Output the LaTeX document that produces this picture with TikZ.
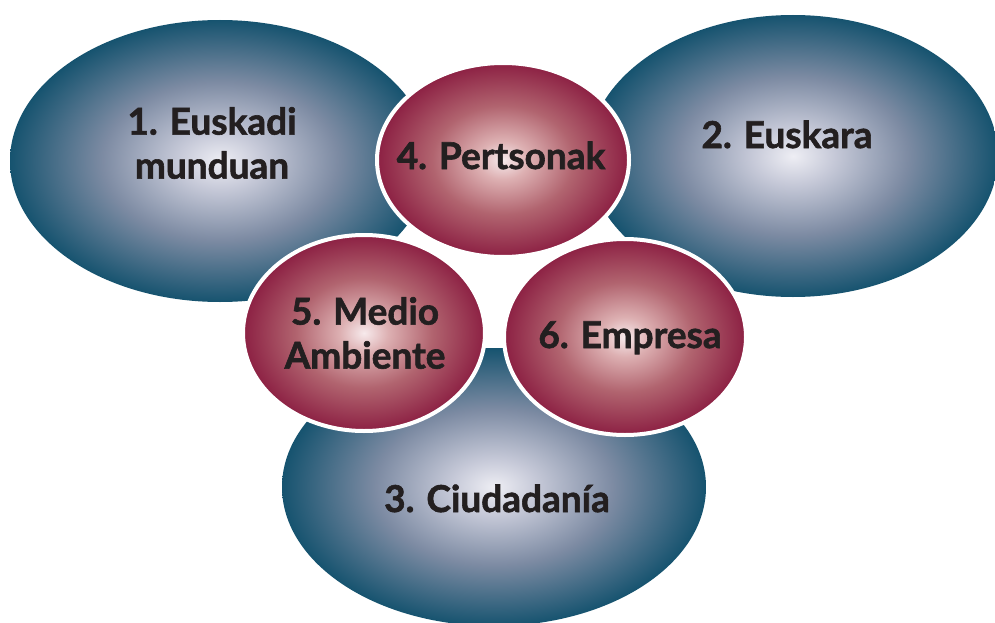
\documentclass[tikz,border=0pt]{standalone}
\usepackage{fontspec}
\setmainfont{Lato}
\newfontfamily\lblfont[FakeBold=1.6]{Lato Bold}
\usetikzlibrary{shapes.geometric}
\definecolor{bzero}{HTML}{EEEEF4}
\definecolor{bone}{HTML}{C6C9D8}
\definecolor{btwo}{HTML}{7D8BA3}
\definecolor{bthree}{HTML}{16536F}
\definecolor{rzero}{HTML}{F7EAEC}
\definecolor{rone}{HTML}{DDB0B2}
\definecolor{rtwo}{HTML}{B1646F}
\definecolor{rthree}{HTML}{8C2043}
\definecolor{txt}{HTML}{231F20}
\pgfdeclareradialshading{blueorb}{\pgfpoint{0bp}{0bp}}{color(0bp)=(bzero); color(5bp)=(bone); color(14bp)=(btwo); color(25bp)=(bthree); color(50bp)=(bthree)}
\pgfdeclareradialshading{redorb}{\pgfpoint{0bp}{0bp}}{color(0bp)=(rzero); color(5bp)=(rone); color(14bp)=(rtwo); color(25bp)=(rthree); color(50bp)=(rthree)}
\tikzset{
  blueell/.style={ellipse, inner sep=0pt, outer sep=0pt, shade, shading=blueorb, minimum width=420pt, minimum height=282pt},
  redell/.style={ellipse, inner sep=0pt, outer sep=0pt, shade, shading=redorb, draw=white, line width=4pt},
  lbl/.style={inner sep=0pt, text=txt, align=center, font=\fontsize{37}{44}\selectfont\lblfont}
}
\begin{document}
\begin{tikzpicture}[x=1pt,y=-1pt]
\useasboundingbox (0,0) rectangle (995,623);
\fill[white] (0,0) rectangle (995,623);
\node[blueell] (e1) at (220,161) {};
\node[blueell, minimum width=410pt] (e2) at (793,156) {};
\node[blueell, minimum width=424pt, minimum height=278pt] (e3) at (494,487) {};
\node[redell, minimum width=252pt, minimum height=194pt] (e4) at (503,160) {};
\node[redell, minimum width=242pt, minimum height=196pt] (e5) at (364,333) {};
\node[redell, minimum width=242pt, minimum height=196pt] (e6) at (625,337) {};
\node[lbl, anchor=center] (t1) at (212,143) {1. Euskadi\\munduan};
\node[lbl, anchor=base] (t2) at (787,148) {2. Euskara};
\node[lbl, anchor=base] (t3) at (497,512) {3. Ciudadanía};
\node[lbl, anchor=base] (t4) at (501,169) {4. Pertsonak};
\node[lbl, anchor=center] (t5) at (365,333) {5. Medio\\Ambiente};
\node[lbl, anchor=base] (t6) at (630,348) {6. Empresa};
\end{tikzpicture}
\end{document}
